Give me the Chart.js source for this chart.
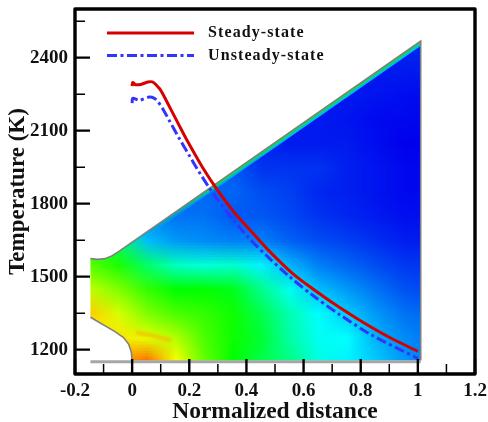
<!DOCTYPE html>
<html>
<head>
<meta charset="utf-8">
<title>Temperature along the nozzle</title>
<script src="https://cdn.jsdelivr.net/npm/chart.js@4/dist/chart.umd.min.js"></script>
<style>
  html, body { margin: 0; padding: 0; background: #fff; }
  canvas { display: block; }
</style>
</head>
<body>
<canvas id="nozzleChart" width="488" height="422"></canvas>
<script>
// line data
const steadyX = [0, 0.002, 0.012, 0.03, 0.055, 0.072, 0.095, 0.107, 0.13, 0.16, 0.19, 0.246, 0.305, 0.36, 0.41, 0.48, 0.56, 0.644, 0.725, 0.805, 0.9, 1.0];
const steadyT = [2283, 2298, 2289, 2290, 2300, 2300, 2274, 2252, 2200, 2132, 2065, 1950, 1845, 1760, 1695, 1605, 1515, 1440, 1374, 1315, 1251, 1193];
const unsteadyX = [0, 0.002, 0.025, 0.06, 0.078, 0.09, 0.107, 0.13, 0.165, 0.2, 0.235, 0.27, 0.3, 0.36, 0.41, 0.47, 0.55, 0.63, 0.725, 0.84, 1.0];
const unsteadyT = [2213, 2233, 2225, 2238, 2233, 2220, 2190, 2142, 2068, 1998, 1929, 1865, 1815, 1725, 1657, 1587, 1501, 1425, 1345, 1259, 1164];

// ticks
const xMajor = [-0.2, 0, 0.2, 0.4, 0.6, 0.8, 1, 1.2];
const xMinor = [-0.1, 0.1, 0.3, 0.5, 0.7, 0.9, 1.1];
const xLabels = ['-0.2', '0', '0.2', '0.4', '0.6', '0.8', '1', '1.2'];
const yMajor = [1200, 1500, 1800, 2100, 2400];
const yMinor = [1350, 1650, 1950, 2250, 2550];
const yLabels = ['1200', '1500', '1800', '2100', '2400'];

// nozzle outline in data units
const upperWallX = [-0.146, -0.12, -0.095, -0.07, -0.045, 1.01];
const upperWallT = [1574, 1571, 1574, 1586, 1605, 2468];
const lowerWallX = [1.01, 0, -0.003, -0.012, -0.03, -0.06, -0.146];
const lowerWallT = [1155, 1155, 1190, 1222, 1250, 1274, 1333];

// orange streak just past the throat
const streakX = [0.02, 0.07, 0.13];
const streakT = [1268, 1258, 1240];

// contour field, 0 blue, 1 cyan, 2 green, 3 yellow, 4 red
const fieldX = [-0.15, -0.05, 0.05, 0.15, 0.25, 0.35, 0.45, 0.55, 0.65, 0.75, 0.85, 0.95, 1.05];
const fieldT = [1150, 1250, 1350, 1450, 1550, 1650, 1750, 1850, 1950, 2050, 2150, 2250, 2350, 2450, 2550];
const row1150 = [2.9, 3.4, 3.6, 3.0, 2.4, 2.0, 1.7, 1.5, 1.1, 0.95, 0.8, 0.6, 0.5];
const row1250 = [3.0, 3.1, 2.9, 2.7, 2.3, 2.05, 1.8, 1.35, 1.05, 1.0, 0.7, 0.55, 0.45];
const row1350 = [3.2, 2.85, 2.5, 2.3, 2.2, 2.05, 1.7, 1.3, 1.0, 0.8, 0.6, 0.45, 0.4];
const row1450 = [2.75, 2.5, 2.2, 2.0, 2.0, 1.9, 1.45, 1.05, 0.75, 0.6, 0.45, 0.32, 0.28];
const row1550 = [2.35, 2.1, 1.6, 1.25, 1.15, 1.2, 0.95, 0.7, 0.5, 0.4, 0.3, 0.22, 0.2];
const row1650 = [2.0, 1.6, 0.75, 0.6, 0.55, 0.5, 0.5, 0.38, 0.3, 0.25, 0.18, 0.12, 0.1];
const row1750 = [1.0, 0.8, 0.5, 0.45, 0.45, 0.35, 0.35, 0.28, 0.2, 0.15, 0.1, 0.06, 0.05];
const row1850 = [0.5, 0.5, 0.4, 0.35, 0.4, 0.4, 0.3, 0.25, 0.15, 0.12, 0.08, 0.03, 0.03];
const row1950 = [0.3, 0.3, 0.3, 0.3, 0.35, 0.35, 0.2, 0.2, 0.2, 0.12, 0.08, 0.03, 0.02];
const row2050 = [0.2, 0.2, 0.2, 0.2, 0.2, 0.2, 0.15, 0.1, 0.1, 0.1, 0.05, 0, 0];
const row2150 = [0.1, 0.1, 0.1, 0.1, 0.1, 0.1, 0.1, 0.1, 0.1, 0.08, 0.04, 0.03, 0.02];
const row2250 = [0.1, 0.1, 0.1, 0.1, 0.1, 0.1, 0.1, 0.1, 0.1, 0.1, 0.08, 0.05, 0.03];
const row2350 = [0.1, 0.1, 0.1, 0.1, 0.1, 0.1, 0.1, 0.1, 0.1, 0.1, 0.1, 0.1, 0.1];
const row2450 = [0.15, 0.15, 0.15, 0.15, 0.15, 0.15, 0.15, 0.15, 0.15, 0.15, 0.15, 0.15, 0.15];
const row2550 = [0.15, 0.15, 0.15, 0.15, 0.15, 0.15, 0.15, 0.15, 0.15, 0.15, 0.15, 0.15, 0.15];
const fieldRows = [row1150, row1250, row1350, row1450, row1550, row1650, row1750, row1850,
  row1950, row2050, row2150, row2250, row2350, row2450, row2550];

const serif = '"Liberation Serif", "Times New Roman", serif';
const RED = '#d60000';
const BLUE = '#3333ff';
const BLUE_DASH = [10, 3.5, 3, 3.5];

function rainbow(v) {
  const stops = [[0, 0, 238], [0, 255, 255], [0, 255, 0], [255, 255, 0], [255, 0, 0]];
  const i = Math.min(3, Math.floor(v));
  const f = v - i;
  return stops[i].map((c, k) => Math.round(c + (stops[i + 1][k] - c) * f));
}

// small bitmap with one pixel per field value, the browser smooths it when scaled
function buildFieldImage() {
  const off = document.createElement('canvas');
  off.width = fieldX.length;
  off.height = fieldT.length;
  const octx = off.getContext('2d');
  const img = octx.createImageData(off.width, off.height);
  fieldRows.forEach((row, r) => {
    row.forEach((v, c) => {
      const p = ((off.height - 1 - r) * off.width + c) * 4;
      const rgb = rainbow(v);
      img.data[p] = rgb[0];
      img.data[p + 1] = rgb[1];
      img.data[p + 2] = rgb[2];
      img.data[p + 3] = 255;
    });
  });
  octx.putImageData(img, 0, 0);
  return off;
}
const fieldImage = buildFieldImage();

function tracePath(ctx, sx, sy, xs, ts, moveFirst) {
  xs.forEach((x, i) => {
    const px = sx.getPixelForValue(x);
    const py = sy.getPixelForValue(ts[i]);
    if (i === 0 && moveFirst) ctx.moveTo(px, py);
    else ctx.lineTo(px, py);
  });
}

const contourPlugin = {
  id: 'contour',
  beforeDatasetsDraw(chart) {
    const ctx = chart.ctx;
    const sx = chart.scales.x;
    const sy = chart.scales.y;
    const n = upperWallX.length;

    ctx.save();
    ctx.beginPath();
    tracePath(ctx, sx, sy, upperWallX, upperWallT, true);
    tracePath(ctx, sx, sy, lowerWallX, lowerWallT, false);
    ctx.closePath();
    ctx.save();
    ctx.clip();
    const x0 = sx.getPixelForValue(fieldX[0]);
    const x1 = sx.getPixelForValue(fieldX[fieldX.length - 1]);
    const y0 = sy.getPixelForValue(fieldT[fieldT.length - 1]);
    const y1 = sy.getPixelForValue(fieldT[0]);
    ctx.imageSmoothingEnabled = true;
    ctx.imageSmoothingQuality = 'low';
    ctx.drawImage(fieldImage, 0.5, 0.5, fieldX.length - 1, fieldT.length - 1, x0, y0, x1 - x0, y1 - y0);

    // streak past the throat
    ctx.save();
    ctx.filter = 'blur(1.5px)';
    ctx.beginPath();
    tracePath(ctx, sx, sy, streakX, streakT, true);
    ctx.strokeStyle = 'rgba(255,170,0,0.65)';
    ctx.lineWidth = 4;
    ctx.lineCap = 'round';
    ctx.stroke();
    ctx.restore();

    // boundary layer along the upper wall
    const grad = ctx.createLinearGradient(sx.getPixelForValue(0), 0, sx.getPixelForValue(0.3), 0);
    grad.addColorStop(0, 'rgba(0,170,130,0)');
    grad.addColorStop(1, 'rgba(0,220,100,1)');
    const gradCyan = ctx.createLinearGradient(sx.getPixelForValue(0), 0, sx.getPixelForValue(0.5), 0);
    gradCyan.addColorStop(0, 'rgba(0,220,255,0)');
    gradCyan.addColorStop(1, 'rgba(0,220,255,0.8)');
    ctx.lineCap = 'butt';
    [[gradCyan, 8], [grad, 5]].forEach(([style, width]) => {
      ctx.beginPath();
      ctx.moveTo(sx.getPixelForValue(upperWallX[n - 2]), sy.getPixelForValue(upperWallT[n - 2]));
      ctx.lineTo(sx.getPixelForValue(upperWallX[n - 1]), sy.getPixelForValue(upperWallT[n - 1]));
      ctx.strokeStyle = style;
      ctx.lineWidth = width;
      ctx.stroke();
    });
    ctx.restore();

    // gray walls
    ctx.beginPath();
    tracePath(ctx, sx, sy, upperWallX, upperWallT, true);
    ctx.lineTo(sx.getPixelForValue(upperWallX[n - 1]), sy.getPixelForValue(1155));
    ctx.moveTo(sx.getPixelForValue(lowerWallX[1]), sy.getPixelForValue(lowerWallT[1]));
    tracePath(ctx, sx, sy, lowerWallX.slice(1), lowerWallT.slice(1), false);
    ctx.strokeStyle = '#808080';
    ctx.lineWidth = 1.6;
    ctx.stroke();

    ctx.beginPath();
    ctx.moveTo(sx.getPixelForValue(-0.146), sy.getPixelForValue(1150));
    ctx.lineTo(sx.getPixelForValue(1.01), sy.getPixelForValue(1150));
    ctx.strokeStyle = '#a6a6a6';
    ctx.lineWidth = 3;
    ctx.stroke();
    ctx.restore();
  }
};

const framePlugin = {
  id: 'frame',
  afterDatasetsDraw(chart) {
    const ctx = chart.ctx;
    const area = chart.chartArea;
    const sx = chart.scales.x;
    const sy = chart.scales.y;
    ctx.save();
    ctx.strokeStyle = '#000';

    ctx.lineWidth = 2.4;
    ctx.beginPath();
    xMajor.forEach(v => {
      ctx.moveTo(sx.getPixelForValue(v), area.bottom);
      ctx.lineTo(sx.getPixelForValue(v), area.bottom - 15);
    });
    yMajor.forEach(v => {
      ctx.moveTo(area.left, sy.getPixelForValue(v));
      ctx.lineTo(area.left + 15, sy.getPixelForValue(v));
    });
    ctx.stroke();

    ctx.lineWidth = 1.5;
    ctx.beginPath();
    xMinor.forEach(v => {
      ctx.moveTo(sx.getPixelForValue(v), area.bottom);
      ctx.lineTo(sx.getPixelForValue(v), area.bottom - 10);
    });
    yMinor.forEach(v => {
      ctx.moveTo(area.left, sy.getPixelForValue(v));
      ctx.lineTo(area.left + 10, sy.getPixelForValue(v));
    });
    ctx.stroke();

    ctx.lineWidth = 3.4;
    ctx.lineJoin = 'round';
    ctx.strokeRect(area.left, area.top, area.right - area.left, area.bottom - area.top);

    // legend inside the frame
    ctx.lineWidth = 3;
    ctx.strokeStyle = RED;
    ctx.beginPath();
    ctx.moveTo(107, 33);
    ctx.lineTo(194, 33);
    ctx.stroke();
    ctx.strokeStyle = BLUE;
    ctx.setLineDash(BLUE_DASH);
    ctx.beginPath();
    ctx.moveTo(107, 55.5);
    ctx.lineTo(194, 55.5);
    ctx.stroke();
    ctx.setLineDash([]);
    ctx.fillStyle = '#111';
    ctx.font = 'bold 16px ' + serif;
    ctx.letterSpacing = '1.1px';
    ctx.textBaseline = 'middle';
    ctx.textAlign = 'left';
    ctx.fillText('Steady-state', 208, 33);
    ctx.fillText('Unsteady-state', 208, 56);
    ctx.restore();
  }
};

new Chart(document.getElementById('nozzleChart'), {
  type: 'scatter',
  data: {
    datasets: [
      {
        label: 'Steady-state',
        data: steadyX.map((x, i) => ({ x: x, y: steadyT[i] })),
        showLine: true,
        borderColor: RED,
        borderWidth: 3,
        pointRadius: 0,
        tension: 0.3
      },
      {
        label: 'Unsteady-state',
        data: unsteadyX.map((x, i) => ({ x: x, y: unsteadyT[i] })),
        showLine: true,
        borderColor: BLUE,
        borderWidth: 3,
        borderDash: BLUE_DASH,
        pointRadius: 0,
        tension: 0.3
      }
    ]
  },
  options: {
    responsive: false,
    animation: false,
    layout: { padding: { top: 9, right: 13, left: 0, bottom: 0 } },
    plugins: { legend: { display: false }, tooltip: { enabled: false } },
    scales: {
      x: {
        type: 'linear',
        min: -0.2,
        max: 1.2,
        afterBuildTicks: axis => { axis.ticks = xMajor.map(v => ({ value: v })); },
        afterFit: axis => { axis.height = 48; axis.paddingLeft = 0; axis.paddingRight = 0; },
        grid: { display: false, drawTicks: false },
        border: { display: false },
        ticks: {
          autoSkip: false,
          maxRotation: 0,
          padding: 6,
          color: '#111',
          font: { family: serif, size: 19, weight: 'bold' },
          callback: value => xLabels[xMajor.indexOf(value)]
        },
        title: {
          display: true,
          text: 'Normalized distance',
          color: '#111',
          padding: { top: 0, bottom: -4 },
          font: { family: serif, size: 23.5, weight: 'bold' }
        }
      },
      y: {
        type: 'linear',
        min: 1100,
        max: 2600,
        afterBuildTicks: axis => { axis.ticks = yMajor.map(v => ({ value: v })); },
        afterFit: axis => { axis.width = 75; axis.paddingTop = 0; axis.paddingBottom = 0; },
        grid: { display: false, drawTicks: false },
        border: { display: false },
        ticks: {
          autoSkip: false,
          padding: 7,
          color: '#111',
          font: { family: serif, size: 19, weight: 'bold' },
          callback: value => yLabels[yMajor.indexOf(value)]
        },
        title: {
          display: true,
          text: 'Temperature (K)',
          color: '#111',
          padding: { top: 4, bottom: 0 },
          font: { family: serif, size: 23, weight: 'bold' }
        }
      }
    }
  },
  plugins: [contourPlugin, framePlugin]
});
</script>
</body>
</html>
